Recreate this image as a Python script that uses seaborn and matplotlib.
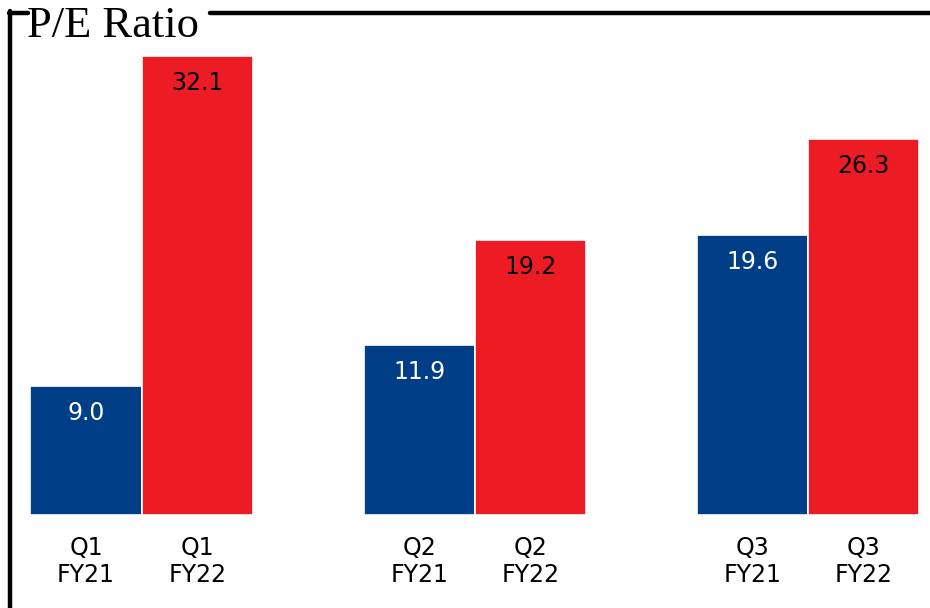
import pandas as pd
import matplotlib.pyplot as plt
import seaborn as sns
from matplotlib.lines import Line2D

# -----------------------------
# Data
# -----------------------------

quarters = ["Q1", "Q2", "Q3"]
years = ["FY21", "FY22"]
pe_fy21 = [9.0, 11.9, 19.6]
pe_fy22 = [32.1, 19.2, 26.3]

df = pd.DataFrame({
    "quarter": quarters * 2,
    "year": [years[0]] * 3 + [years[1]] * 3,
    "pe": pe_fy21 + pe_fy22,
})

blue = "#003F87"
red = "#ED1C24"

# -----------------------------
# Figure
# -----------------------------

sns.set_style("white")
plt.rcParams["font.family"] = ["DejaVu Sans"]

W, H = 930, 608
fig = plt.figure(figsize=(W / 100, H / 100), dpi=100)
ax = fig.add_axes([12 / W, (H - 515) / H, (W - 12) / W, (515 - 14) / H])
ax.patch.set_alpha(0)

sns.barplot(
    data=df, x="quarter", y="pe", hue="year",
    palette=[blue, red], saturation=1, width=0.667,
    edgecolor="white", linewidth=1.2,
    legend=False, ax=ax,
)

ax.set_xlim(-0.389, 2.366)
ax.set_ylim(0, 501 / 14.3)
ax.set_xticks([])
ax.set_yticks([])
ax.set_xlabel("")
ax.set_ylabel("")
sns.despine(ax=ax, left=True, bottom=True)

# -----------------------------
# Value labels and category labels
# -----------------------------

for container, year, txtcolor in zip(ax.containers, years, ["white", "black"]):
    for patch, q in zip(container.patches, quarters):
        cx = patch.get_x() + patch.get_width() / 2
        top = patch.get_height()
        ax.annotate(f"{top:.1f}", xy=(cx, top), xytext=(0, -27),
                    textcoords="offset pixels", ha="center", va="center",
                    color=txtcolor, fontsize=17)
        ax.annotate(q, xy=(cx, 0), xytext=(0, -33),
                    textcoords="offset pixels", ha="center", va="center",
                    color="black", fontsize=17, annotation_clip=False)
        ax.annotate(year, xy=(cx, 0), xytext=(0, -60),
                    textcoords="offset pixels", ha="center", va="center",
                    color="black", fontsize=17, annotation_clip=False)

# -----------------------------
# Frame and title
# -----------------------------

lw = 3.2
fig.add_artist(Line2D([10 / W, 10 / W], [0, (H - 11) / H], color="black", lw=lw))
fig.add_artist(Line2D([8.5 / W, 28 / W], [(H - 13) / H, (H - 13) / H], color="black", lw=lw))
fig.add_artist(Line2D([210 / W, 1], [(H - 13) / H, (H - 13) / H], color="black", lw=lw))

fig.text(27 / W, (H - 26) / H, "P/E Ratio", ha="left", va="center",
         family="Liberation Serif", fontsize=32, color="black")

fig.savefig("out.png", dpi=100)
